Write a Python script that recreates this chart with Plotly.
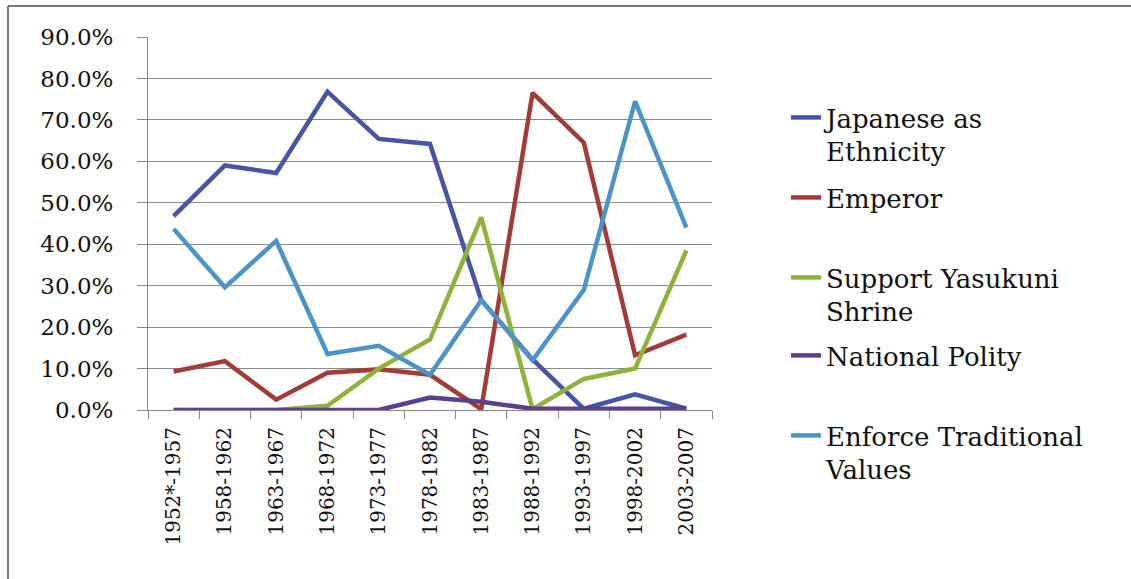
import plotly.graph_objects as go

periods = ["1952*-1957", "1958-1962", "1963-1967", "1968-1972", "1973-1977",
           "1978-1982", "1983-1987", "1988-1992", "1993-1997", "1998-2002", "2003-2007"]

japanese_ethnicity = [46.8, 59.0, 57.2, 76.8, 65.4, 64.2, 26.5, 12.2, 0.3, 3.8, 0.3]
emperor = [9.3, 11.8, 2.5, 9.0, 9.8, 8.5, 0.2, 76.5, 64.5, 13.2, 18.2]
yasukuni = [0.0, 0.0, 0.0, 1.0, 10.0, 17.0, 46.5, 0.2, 7.5, 10.0, 38.5]
national_polity = [0.0, 0.0, 0.0, 0.0, 0.0, 3.0, 2.0, 0.3, 0.3, 0.3, 0.3]
traditional_values = [43.7, 29.6, 40.8, 13.5, 15.5, 8.5, 26.5, 12.0, 29.0, 74.5, 44.0]

y_ticks = [0, 10, 20, 30, 40, 50, 60, 70, 80, 90]
y_tick_labels = [f"{v:.1f}%" for v in y_ticks]

SERIF = "'DejaVu Serif', 'Liberation Serif', serif"

series = [
    ("Japanese as<br>Ethnicity", japanese_ethnicity, "#4655A5", "legend"),
    ("Emperor", emperor, "#A33B36", "legend2"),
    ("Support Yasukuni<br>Shrine", yasukuni, "#8DB33A", "legend3"),
    ("National Polity", national_polity, "#5B3F8C", "legend4"),
    ("Enforce Traditional<br>Values", traditional_values, "#4C94C8", "legend5"),
]

fig = go.Figure()
for name, vals, color, leg in series:
    fig.add_trace(go.Scatter(
        x=periods, y=vals, mode="lines", name=name,
        line=dict(color=color, width=4.5), legend=leg,
    ))

# plot area geometry in pixels
L, R, T, B = 148, 712, 37, 410
W, H = 1131, 579
pw, ph = R - L, B - T

def px_x(x):
    return (x - L) / pw

def px_y(y):
    return (B - y) / ph

legend_font = dict(family=SERIF, size=26, color="#111111")
legend_rows = [("legend", 94), ("legend2", 174), ("legend3", 254), ("legend4", 332), ("legend5", 412)]
legend_cfg = {}
for key, top in legend_rows:
    legend_cfg[key] = dict(
        x=px_x(786), y=px_y(top), xanchor="left", yanchor="top",
        font=legend_font, bgcolor="rgba(0,0,0,0)", borderwidth=0,
        valign="top", itemwidth=30,
    )

fig.update_layout(
    width=W, height=H,
    margin=dict(l=L, r=W - R, t=T, b=H - B, pad=0),
    paper_bgcolor="white", plot_bgcolor="white",
    showlegend=True,
    **legend_cfg,
    xaxis=dict(
        type="category", categoryorder="array", categoryarray=periods,
        range=[-0.5, len(periods) - 0.5],
        tickson="boundaries", ticks="outside", ticklen=8, tickcolor="#888888",
        showline=True, linecolor="#888888", linewidth=1,
        showgrid=False, tickangle=-90,
        tickfont=dict(family=SERIF, size=20, color="#111111"),
        ticklabelstandoff=8,
    ),
    yaxis=dict(
        range=[0, 90], tickvals=y_ticks, ticktext=y_tick_labels,
        ticks="outside", ticklen=10, tickcolor="#888888",
        showline=True, linecolor="#888888", linewidth=1,
        showgrid=True, gridcolor="#8a8a8a", gridwidth=1,
        zeroline=False,
        tickfont=dict(family=SERIF, size=23, color="#111111"),
        ticklabelstandoff=19,
    ),
    shapes=[
        dict(type="line", xref="paper", yref="paper",
             x0=px_x(8), x1=px_x(W), y0=px_y(6), y1=px_y(6),
             line=dict(color="#777777", width=2)),
        dict(type="line", xref="paper", yref="paper",
             x0=px_x(8), x1=px_x(8), y0=px_y(6), y1=px_y(H),
             line=dict(color="#777777", width=2)),
    ],
)

fig.write_html("out.html")
